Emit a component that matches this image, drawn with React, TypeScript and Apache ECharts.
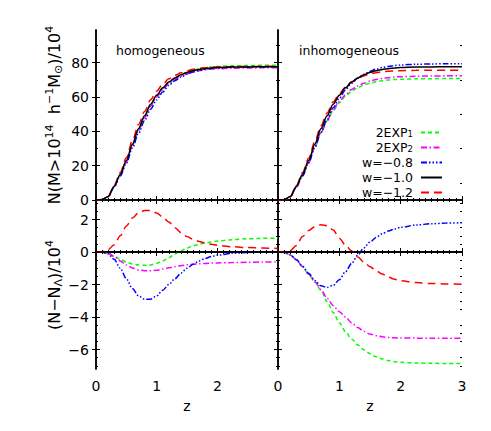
import React, { useEffect, useRef } from 'react';
import * as echarts from 'echarts';

// redshift grid
const Z = [0, 0.1, 0.2, 0.3, 0.4, 0.5, 0.6, 0.7, 0.8, 0.9, 1.0, 1.1, 1.2, 1.3, 1.4, 1.5, 1.6, 1.7, 1.8, 1.9, 2.0, 2.25, 2.5, 2.75, 3.0];

// top-left: homogeneous N(M>1e14)/1e4
const homGreen = [0, 0.19, 1.92, 7.75, 14.55, 22.38, 31.76, 40.7, 48.18, 55.0, 60.3, 64.75, 68.35, 70.98, 72.98, 74.55, 75.68, 76.48, 77.06, 77.52, 77.77, 78.16, 78.31, 78.44, 78.46];
const homMagenta = [0, 0.19, 1.92, 7.72, 14.45, 22.2, 31.52, 40.4, 47.85, 54.65, 59.88, 64.25, 67.73, 70.2, 72.06, 73.51, 74.55, 75.28, 75.8, 76.22, 76.43, 76.75, 76.87, 76.98, 76.99];
const homBlue = [0, 0.18, 1.88, 7.55, 14.0, 21.35, 30.25, 38.8, 46.1, 52.9, 58.3, 62.95, 66.7, 69.45, 71.6, 73.3, 74.55, 75.45, 76.1, 76.62, 76.9, 77.32, 77.47, 77.59, 77.6];
const homBlack = [0, 0.2, 2.0, 8.0, 15.0, 23.0, 32.5, 41.5, 49.0, 55.8, 61.0, 65.3, 68.7, 71.1, 72.9, 74.3, 75.3, 76.0, 76.5, 76.9, 77.1, 77.4, 77.5, 77.6, 77.6];
const homRed = [0, 0.22, 2.15, 8.45, 16.0, 24.6, 34.6, 43.9, 51.55, 58.35, 63.4, 67.45, 70.55, 72.6, 74.1, 75.25, 76.08, 76.65, 77.05, 77.37, 77.51, 77.72, 77.77, 77.84, 77.82];

// top-right: inhomogeneous
const inhGreen = [0, 0.17, 1.82, 7.53, 14.1, 21.62, 30.65, 39.15, 45.95, 52.08, 56.65, 60.4, 63.35, 65.38, 66.88, 68.04, 68.85, 69.42, 69.82, 70.15, 70.31, 70.57, 70.65, 70.74, 70.74];
const inhMagenta = [0, 0.17, 1.82, 7.53, 14.1, 21.63, 30.68, 39.2, 46.15, 52.5, 57.33, 61.3, 64.35, 66.45, 68.02, 69.25, 70.15, 70.78, 71.24, 71.62, 71.81, 72.1, 72.2, 72.3, 72.3];
const inhBlue = [0, 0.18, 1.82, 7.53, 14.12, 21.7, 30.75, 39.42, 46.82, 53.75, 59.29, 64.08, 68.0, 70.9, 73.15, 74.92, 76.2, 77.12, 77.79, 78.32, 78.62, 79.06, 79.24, 79.38, 79.4];
const inhBlack = [0, 0.2, 2.0, 8.0, 15.0, 23.0, 32.5, 41.5, 49.0, 55.8, 61.0, 65.3, 68.7, 71.1, 72.9, 74.3, 75.3, 76.0, 76.5, 76.9, 77.1, 77.4, 77.5, 77.6, 77.6];
const inhRed = [0, 0.21, 2.08, 8.4, 15.95, 24.32, 34.06, 43.18, 50.62, 57.15, 61.85, 65.72, 68.76, 70.8, 72.28, 73.4, 74.15, 74.64, 74.95, 75.22, 75.33, 75.52, 75.56, 75.63, 75.62];

// bottom-left: homogeneous (N - N_Lambda)/1e4
const homDiffGreen = [0, -0.01, -0.08, -0.25, -0.45, -0.62, -0.74, -0.8, -0.82, -0.8, -0.7, -0.55, -0.35, -0.12, 0.08, 0.25, 0.38, 0.48, 0.56, 0.62, 0.67, 0.76, 0.81, 0.84, 0.86];
const homDiffMagenta = [0, -0.01, -0.08, -0.28, -0.55, -0.8, -0.98, -1.1, -1.15, -1.15, -1.12, -1.05, -0.97, -0.9, -0.84, -0.79, -0.75, -0.72, -0.7, -0.68, -0.67, -0.65, -0.63, -0.62, -0.61];
const homDiffBlue = [0, -0.02, -0.12, -0.45, -1.0, -1.65, -2.25, -2.7, -2.9, -2.9, -2.7, -2.35, -2.0, -1.65, -1.3, -1.0, -0.75, -0.55, -0.4, -0.28, -0.2, -0.08, -0.03, -0.01, 0];
const homDiffBlack = [0, 0, 0, 0, 0, 0, 0, 0, 0, 0, 0, 0, 0, 0, 0, 0, 0, 0, 0, 0, 0, 0, 0, 0, 0];
const homDiffRed = [0, 0.02, 0.15, 0.45, 1.0, 1.6, 2.1, 2.4, 2.55, 2.55, 2.4, 2.15, 1.85, 1.5, 1.2, 0.95, 0.78, 0.65, 0.55, 0.47, 0.41, 0.32, 0.27, 0.24, 0.22];

// bottom-right: inhomogeneous (N - N_Lambda)/1e4
const inhDiffGreen = [0, -0.03, -0.18, -0.47, -0.9, -1.38, -1.85, -2.35, -3.05, -3.72, -4.35, -4.9, -5.35, -5.72, -6.02, -6.26, -6.45, -6.58, -6.68, -6.75, -6.79, -6.83, -6.85, -6.86, -6.86];
const inhDiffMagenta = [0, -0.03, -0.18, -0.47, -0.9, -1.37, -1.82, -2.3, -2.85, -3.3, -3.67, -4.0, -4.35, -4.65, -4.88, -5.05, -5.15, -5.22, -5.26, -5.28, -5.29, -5.3, -5.3, -5.3, -5.3];
const inhDiffBlue = [0, -0.02, -0.18, -0.47, -0.88, -1.3, -1.75, -2.08, -2.18, -2.05, -1.71, -1.22, -0.7, -0.2, 0.25, 0.62, 0.9, 1.12, 1.29, 1.42, 1.52, 1.66, 1.74, 1.78, 1.8];
const inhDiffBlack = [0, 0, 0, 0, 0, 0, 0, 0, 0, 0, 0, 0, 0, 0, 0, 0, 0, 0, 0, 0, 0, 0, 0, 0, 0];
const inhDiffRed = [0, 0.01, 0.08, 0.4, 0.95, 1.32, 1.56, 1.68, 1.62, 1.35, 0.85, 0.42, 0.06, -0.3, -0.62, -0.9, -1.15, -1.36, -1.55, -1.68, -1.77, -1.88, -1.94, -1.97, -1.98];

const seriesNames = ['2EXP1', '2EXP2', 'w=-0.8', 'w=-1.0', 'w=-1.2'];
const legendLabels = ['{a|2EXP}{s|1}', '{a|2EXP}{s|2}', '{t|w=−0.8}', '{t|w=−1.0}', '{t|w=−1.2}'];
const panelLabels = ['homogeneous', 'inhomogeneous'];

const topYLabels = [0, 20, 40, 60, 80];
const topYMinor = [10, 30, 50, 70, 90];
const botYLabels = [-6, -4, -2, 0, 2];
const botYMinor = [-7, -6.5, -5.5, -5, -4.5, -3.5, -3, -2.5, -1.5, -1, -0.5, 0.5, 1, 1.5, 2.5, 3];

const panels = [
  [homGreen, homMagenta, homBlue, homBlack, homRed],
  [inhGreen, inhMagenta, inhBlue, inhBlack, inhRed],
  [homDiffGreen, homDiffMagenta, homDiffBlue, homDiffBlack, homDiffRed],
  [inhDiffGreen, inhDiffMagenta, inhDiffBlue, inhDiffBlack, inhDiffRed],
];

const STYLES = [
  { color: '#00ff00', type: [4, 3] as any },
  { color: '#ff00ff', type: [6, 2.5, 1.5, 2.5] as any },
  { color: '#0000ff', type: [6, 2, 1.5, 2, 1.5, 2, 1.5, 2] as any },
  { color: '#000000', type: 'solid' as any },
  { color: '#ff0000', type: [8, 5] as any },
];

const FONT = 'DejaVu Sans';
const RECTS = [
  { left: 96, top: 30, width: 182, height: 170 },
  { left: 278, top: 30, width: 184, height: 170 },
  { left: 96, top: 200, width: 182, height: 169 },
  { left: 278, top: 200, width: 184, height: 169 },
];
const Y_RANGES = [
  [0, 99],
  [0, 99],
  [-7.2, 3.2],
  [-7.2, 3.2],
];

const fmt = (v: number) => (v < 0 ? '−' + Math.abs(v) : String(v));

export default function App() {
  const ref = useRef<HTMLDivElement>(null);
  useEffect(() => {
    if (!ref.current) return;
    const chart = echarts.init(ref.current, undefined, { renderer: 'svg' });
    const line = { show: true, lineStyle: { color: '#000', width: 1.5 } };
    const grid: any[] = [];
    const xAxis: any[] = [];
    const yAxis: any[] = [];
    const series: any[] = [];

    RECTS.forEach((r) => grid.push({ ...r, containLabel: false, outerBoundsMode: 'none' }));
    RECTS.forEach((r) => grid.push({ ...r, containLabel: false, outerBoundsMode: 'none' }));

    for (let p = 0; p < 4; p++) {
      const isBottom = p >= 2;
      const xBase = {
        type: 'value', gridIndex: p, min: 0, max: 3, interval: 1,
        axisLine: line,
        axisTick: { show: true, inside: true, length: 4, lineStyle: { color: '#000', width: 1 } },
        minorTick: { show: true, splitNumber: 10, length: 2, lineStyle: { color: '#000', width: 1 } },
        splitLine: { show: false },
        minorSplitLine: { show: false },
      };
      xAxis.push({
        ...xBase, position: 'bottom',
        axisLabel: {
          show: isBottom, color: '#000', fontFamily: FONT, fontSize: 14, margin: 10,
          showMaxLabel: p === 3, formatter: fmt,
        },
        name: isBottom ? 'z' : '', nameLocation: 'middle', nameGap: 30,
        nameTextStyle: { color: '#000', fontFamily: FONT, fontSize: 14 },
      });
      xAxis.push({ ...xBase, position: 'top', axisLabel: { show: false } });

      const [ymin, ymax] = Y_RANGES[p];
      const major = isBottom ? botYLabels : topYLabels;
      const yBase = {
        type: 'value', gridIndex: p, min: ymin, max: ymax,
        axisLine: line,
        axisTick: { show: true, inside: true, length: 4, customValues: major, lineStyle: { color: '#000', width: 1 } },
        splitLine: { show: false },
      };
      yAxis.push({
        ...yBase, position: 'left',
        axisLabel: {
          show: p === 0 || p === 2, customValues: major, color: '#000', fontFamily: FONT, fontSize: 14, margin: 7,
          formatter: fmt,
        },
      });
      yAxis.push({ ...yBase, position: 'right', axisLabel: { show: false } });

      panels[p].forEach((arr, k) => {
        series.push({
          type: 'line', name: seriesNames[k], xAxisIndex: 2 * p, yAxisIndex: 2 * p,
          data: Z.map((z, i) => [z, arr[i]]),
          symbol: 'none', smooth: 0.3, smoothMonotone: 'x',
          lineStyle: { color: STYLES[k].color, width: 1.5, type: STYLES[k].type },
          itemStyle: { color: STYLES[k].color },
          z: k === 3 ? 3 : 2,
        });
      });
    }
    // minor y ticks on overlay grids
    for (let p = 0; p < 4; p++) {
      const isBottom = p >= 2;
      const [ymin, ymax] = Y_RANGES[p];
      xAxis.push({ type: 'value', gridIndex: 4 + p, min: 0, max: 3, show: false });
      const minor = isBottom ? botYMinor : topYMinor;
      const yb = {
        type: 'value', gridIndex: 4 + p, min: ymin, max: ymax,
        axisLine: { show: false },
        axisTick: { show: true, inside: true, length: 2, customValues: minor, lineStyle: { color: '#000', width: 1 } },
        axisLabel: { show: false },
        splitLine: { show: false },
      };
      yAxis.push({ ...yb, position: 'left' });
      yAxis.push({ ...yb, position: 'right' });
    }

    const titleRich = {
      n: { fontFamily: FONT, fontSize: 16, lineHeight: 20, color: '#000' },
      sup: { fontFamily: FONT, fontSize: 11, lineHeight: 10, verticalAlign: 'top', color: '#000' },
      sub: { fontFamily: FONT, fontSize: 11, lineHeight: 10, verticalAlign: 'bottom', color: '#000' },
    };

    chart.setOption({
      animation: false,
      backgroundColor: '#fff',
      grid, xAxis, yAxis, series,
      legend: {
        data: seriesNames,
        orient: 'vertical', align: 'right',
        right: 48, top: 126, padding: 0,
        itemWidth: 21, itemHeight: 10, itemGap: 2,
        selectedMode: false,
        itemStyle: { opacity: 0, borderWidth: 0 },
        formatter: (name: string) => legendLabels[seriesNames.indexOf(name)],
        textStyle: {
          color: '#000', fontFamily: FONT, fontSize: 12.5,
          rich: {
            a: { fontFamily: FONT, fontSize: 12.5, lineHeight: 12, color: '#000' },
            t: { fontFamily: FONT, fontSize: 12.5, lineHeight: 12, color: '#000', padding: [0, 3, 0, 0] },
            s: { fontFamily: FONT, fontSize: 8.5, lineHeight: 2, verticalAlign: 'bottom', color: '#000', padding: [0, 3, 0, 0] },
          },
        },
      },
      graphic: [
        { type: 'text', left: 116, top: 44, style: { text: panelLabels[0], fontFamily: FONT, fontSize: 12.5, fill: '#000' } },
        { type: 'text', left: 299, top: 44, style: { text: panelLabels[1], fontFamily: FONT, fontSize: 12.5, fill: '#000' } },
        {
          type: 'text', x: 54, y: 115, rotation: Math.PI / 2,
          style: {
            text: '{n|N(M>10}{sup|14}{n|  h}{sup|−1}{n|M}{sub|⊙}{n|)/10}{sup|4}',
            rich: titleRich, align: 'center', verticalAlign: 'middle', fill: '#000',
          },
        },
        {
          type: 'text', x: 54, y: 285, rotation: Math.PI / 2,
          style: {
            text: '{n|(N−N}{sub|Λ}{n|)/10}{sup|4}',
            rich: titleRich, align: 'center', verticalAlign: 'middle', fill: '#000',
          },
        },
      ],
    });
    return () => chart.dispose();
  }, []);
  return <div ref={ref} style={{ position: 'fixed', left: 0, top: 0, width: 491, height: 431, background: '#fff' }} />;
}
